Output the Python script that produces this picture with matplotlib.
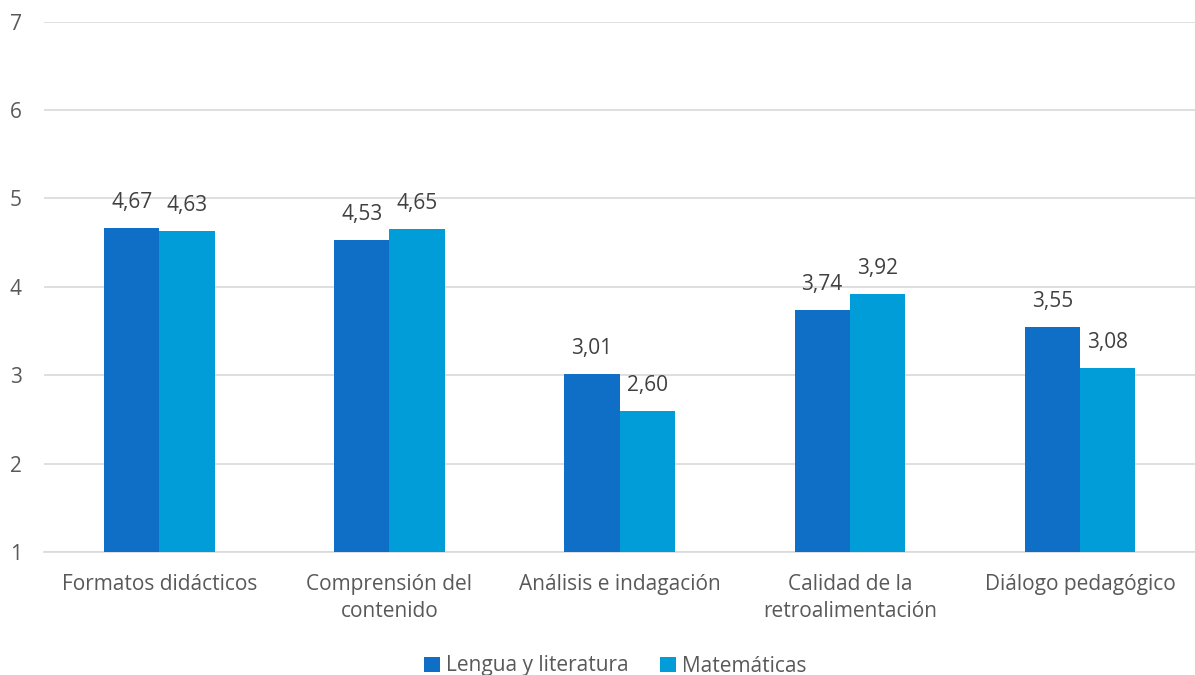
import numpy as np
import matplotlib
matplotlib.use("Agg")
import matplotlib.pyplot as plt

# datos
categorias = ["Formatos didácticos", "Comprensión del\ncontenido", "Análisis e indagación",
              "Calidad de la\nretroalimentación", "Diálogo pedagógico"]
lengua = [4.67, 4.53, 3.01, 3.74, 3.55]
matematicas = [4.63, 4.65, 2.60, 3.92, 3.08]
series_nombres = ["Lengua y literatura", "Matemáticas"]

color_lengua = "#0F6FC6"
color_mate = "#009DD9"
gris = "#595959"

plt.rcParams["font.family"] = ["Open Sans", "DejaVu Sans"]

fig = plt.figure(figsize=(11.95, 6.75), dpi=100)
ax = fig.add_axes([0.037, 0.182, 0.963, 0.786])

x = np.arange(len(categorias))
w = 0.24
base = 1
b1 = ax.bar(x - w / 2, np.array(lengua) - base, w, bottom=base, color=color_lengua,
            label=series_nombres[0], zorder=3)
b2 = ax.bar(x + w / 2, np.array(matematicas) - base, w, bottom=base, color=color_mate,
            label=series_nombres[1], zorder=3)

# etiquetas de valor con coma decimal
for barras, vals in [(b1, lengua), (b2, matematicas)]:
    for r, v in zip(barras, vals):
        ax.text(r.get_x() + r.get_width() / 2, v + 0.17, f"{v:.2f}".replace(".", ","),
                ha="center", va="bottom", fontsize=15, color="#404040")

ax.set_xlim(-0.5, len(categorias) - 0.5)
ax.set_ylim(1, 7)
ax.set_yticks(range(1, 8))
ax.yaxis.grid(True, color="#D9D9D9", linewidth=1.2, zorder=0)
ax.set_axisbelow(True)
for s in ["top", "right", "left"]:
    ax.spines[s].set_visible(False)
ax.spines["bottom"].set_color("#D9D9D9")
ax.spines["bottom"].set_linewidth(1.2)
ax.tick_params(axis="both", length=0, labelsize=15, colors=gris)
ax.tick_params(axis="y", pad=16)
ax.tick_params(axis="x", pad=16)
ax.set_xticks(x)
ax.set_xticklabels(categorias, color=gris, linespacing=1.35)

fig.legend(loc="lower center", bbox_to_anchor=(0.515, -0.03), ncol=2, frameon=False,
           fontsize=15, handlelength=0.75, handleheight=0.75, handletextpad=0.3,
           columnspacing=1.5, labelcolor=gris)

fig.savefig("out.png", dpi=100)
